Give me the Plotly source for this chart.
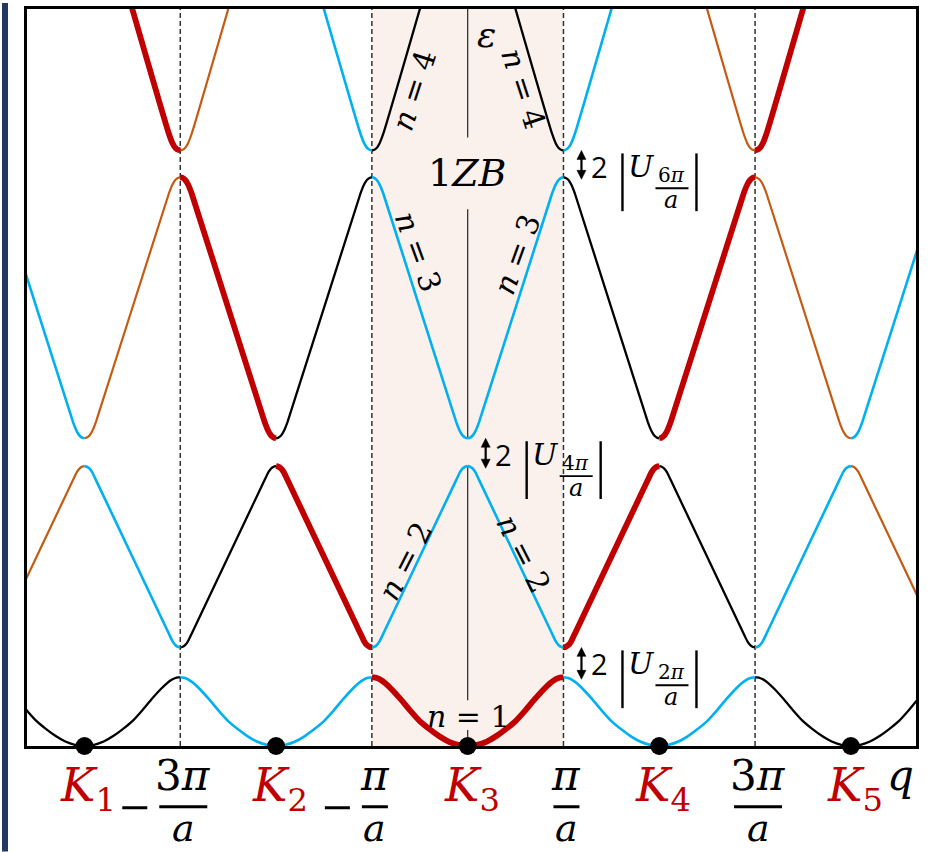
import plotly.graph_objects as go

# ---------------- data ----------------
# reciprocal lattice points (units of pi/a) and the colour family of the free-electron parabola centred there
K_POS = [-6, -4, -2, 0, 2, 4, 6]
K_FAMILY = ["orange", "black", "blue", "red", "blue", "black", "orange"]

# labelled lattice points on the q axis
K_TICK_POS = [-4, -2, 0, 2, 4]
K_TICK_TEXT = ["<i>K</i><sub>1</sub>", "<i>K</i><sub>2</sub>", "<i>K</i><sub>3</sub>",
               "<i>K</i><sub>4</sub>", "<i>K</i><sub>5</sub>"]

# zone-boundary ticks (units of pi/a)
ZB_POS = [-3, -1, 1, 3]
ZB_NUM = ["3<i>π</i>", "<i>π</i>", "<i>π</i>", "3<i>π</i>"]
ZB_NEG = [True, True, False, False]

# band profiles: energy vs distance d = |q - K| from the parabola centre (energy in arb. units)
BAND1_D = [0.0, 0.1, 0.2, 0.3, 0.4, 0.5, 0.6, 0.7, 0.8, 0.86, 0.91, 0.95, 0.98, 1.0]
BAND1_E = [0.0, 0.012, 0.045, 0.10, 0.17, 0.25, 0.355, 0.47, 0.575, 0.63, 0.665, 0.683, 0.688, 0.69]
BAND2_D = [1.0, 1.02, 1.05, 1.08, 1.12, 1.88, 1.92, 1.95, 1.98, 2.0]
BAND2_E = [0.99, 0.994, 1.012, 1.05, 1.13, 2.67, 2.75, 2.788, 2.806, 2.81]
BAND3_D = [2.0, 2.02, 2.05, 2.08, 2.12, 2.88, 2.92, 2.95, 2.98, 3.0]
BAND3_E = [3.09, 3.094, 3.115, 3.16, 3.255, 5.545, 5.64, 5.685, 5.706, 5.71]
BAND4_D = [3.0, 3.02, 3.05, 3.08, 3.12, 3.6]
BAND4_E = [5.98, 5.985, 6.005, 6.05, 6.15, 7.73]

# gap labels: where the arrow sits (q of the boundary) and the Fourier component text
GAP_Q = [1, 0, 1]
GAP_TEXT = ["2", "4", "6"]

# ---------------- styles ----------------
FAMILY_STYLE = {
    "orange": ("#C55A11", 2.2),
    "black": ("#000000", 2.3),
    "blue": ("#00B0F0", 2.6),
    "red": ("#C00000", 5.8),
}
RED = "#C00000"
SERIF = "DejaVu Serif"
XR = [-4.60, 4.68]
YR = [0.0, 7.40]
W, H = 932, 852
L, T, PW, PH = 27, 6, 889, 740


def pxq(q):
    return L + (q - XR[0]) / (XR[1] - XR[0]) * PW


def pyE(e):
    return T + (YR[1] - e) / (YR[1] - YR[0]) * PH


def papx(px):
    return (px - L) / PW


def papy(py):
    return (T + PH - py) / PH


BANDS = [(BAND1_D, BAND1_E), (BAND2_D, BAND2_E), (BAND3_D, BAND3_E), (BAND4_D, BAND4_E)]

fig = go.Figure()

# ---------------- band curves ----------------
for fam in ["orange", "black", "blue", "red"]:
    xs, ys = [], []
    for K, f in zip(K_POS, K_FAMILY):
        if f != fam:
            continue
        for n, (D, E) in enumerate(BANDS, start=1):
            if n == 1:
                xs += [K - d for d in reversed(D)] + [K + d for d in D[1:]] + [None]
                ys += list(reversed(E)) + E[1:] + [None]
            else:
                xs += [K + d for d in D] + [None]
                ys += E + [None]
                xs += [K - d for d in D] + [None]
                ys += E + [None]
    col, wid = FAMILY_STYLE[fam]
    fig.add_trace(go.Scatter(x=xs, y=ys, mode="lines",
                             line=dict(color=col, width=wid, shape="spline", smoothing=0.5),
                             hoverinfo="skip", showlegend=False))

# lattice points
fig.add_trace(go.Scatter(x=K_TICK_POS, y=[0] * len(K_TICK_POS), mode="markers",
                         marker=dict(color="black", size=18), cliponaxis=False,
                         hoverinfo="skip", showlegend=False))

shapes = []
annotations = []

# first Brillouin zone shading
shapes.append(dict(type="rect", xref="x", yref="y", x0=-1, x1=1, y0=YR[0], y1=YR[1],
                   fillcolor="#FBF1EC", line=dict(width=0), layer="below"))
# zone boundary dashed lines
for q in ZB_POS:
    shapes.append(dict(type="line", xref="x", yref="y", x0=q, x1=q, y0=YR[0], y1=YR[1],
                       line=dict(color="#333333", width=1.5, dash="5px,3px"), layer="below"))
# central energy axis (broken around labels)
for y0, y1 in [(0.0, 0.16), (0.46, BAND2_E[-1]), (BAND3_E[0], 5.39), (6.11, YR[1])]:
    shapes.append(dict(type="line", xref="x", yref="y", x0=0, x1=0, y0=y0, y1=y1,
                       line=dict(color="#333333", width=1.3), layer="below"))

# left navy page bar
shapes.append(dict(type="rect", xref="paper", yref="paper", x0=papx(2), x1=papx(8),
                   y0=papy(H), y1=papy(0), fillcolor="#1F3864", line=dict(width=0)))

# ---------------- q-axis labels ----------------
for q, txt in zip(K_TICK_POS, K_TICK_TEXT):
    annotations.append(dict(x=papx(pxq(q) + 4), y=papy(789), xref="paper", yref="paper",
                            text=txt, showarrow=False, xanchor="center", yanchor="middle",
                            font=dict(family=SERIF, size=46, color=RED)))

for q, num, neg in zip(ZB_POS, ZB_NUM, ZB_NEG):
    cx = pxq(q) + 3
    bw = 48 if "3" in num else 26
    annotations.append(dict(x=papx(cx), y=papy(776), xref="paper", yref="paper",
                            text=num, showarrow=False, xanchor="center", yanchor="middle",
                            font=dict(family=SERIF, size=42, color="black")))
    annotations.append(dict(x=papx(cx), y=papy(828), xref="paper", yref="paper",
                            text="<i>a</i>", showarrow=False, xanchor="center", yanchor="middle",
                            font=dict(family=SERIF, size=38, color="black")))
    shapes.append(dict(type="line", xref="paper", yref="paper",
                       x0=papx(cx - bw / 2), x1=papx(cx + bw / 2), y0=papy(807), y1=papy(807),
                       line=dict(color="black", width=3)))
    if neg:
        mx1 = cx - bw / 2 - 12
        shapes.append(dict(type="line", xref="paper", yref="paper",
                           x0=papx(mx1 - 25), x1=papx(mx1), y0=papy(808), y1=papy(808),
                           line=dict(color="black", width=3)))

annotations.append(dict(x=papx(900), y=papy(776), xref="paper", yref="paper",
                        text="<i>q</i>", showarrow=False, xanchor="center", yanchor="middle",
                        font=dict(family=SERIF, size=42, color="black")))

# ---------------- in-plot labels ----------------
def lab(q, e, txt, size, angle=0):
    annotations.append(dict(x=q, y=e, xref="x", yref="y", text=txt, showarrow=False,
                            textangle=angle, xanchor="center", yanchor="middle",
                            font=dict(family=SERIF, size=size, color="black")))


lab(-0.56, 6.58, "<i>n</i> = 4", 30, -72)
lab(0.58, 6.60, "<i>n</i> = 4", 30, 72)
lab(0.20, 7.14, "<i>ε</i>", 36)
lab(0.0, 5.75, "1<i>ZB</i>", 38)
lab(-0.51, 4.96, "<i>n</i> = 3", 30, 70)
lab(0.51, 4.94, "<i>n</i> = 3", 30, -70)
lab(-0.645, 1.86, "<i>n</i> = 2", 30, -63)
lab(0.58, 1.93, "<i>n</i> = 2", 30, 63)
lab(0.01, 0.30, "<i>n</i> = 1", 30, 0)

# ---------------- gap labels 2|U_{2n pi/a}| ----------------
gap_lower = [BAND1_E[-1], BAND2_E[-1], BAND3_E[-1]]
gap_upper = [BAND2_E[0], BAND3_E[0], BAND4_E[0]]
for q, lo, up, m in zip(GAP_Q, gap_lower, gap_upper, GAP_TEXT):
    ax = pxq(q) + 18
    yt = pyE(up)
    yb = pyE(lo) + 2
    # double arrow
    shapes.append(dict(type="line", xref="paper", yref="paper", x0=papx(ax), x1=papx(ax),
                       y0=papy(yt + 6), y1=papy(yb - 6), line=dict(color="black", width=2.2)))
    for tip, base in [(yt, yt + 9), (yb, yb - 9)]:
        path = "M {:.5f},{:.5f} L {:.5f},{:.5f} L {:.5f},{:.5f} Z".format(
            papx(ax), papy(tip), papx(ax - 4.5), papy(base), papx(ax + 4.5), papy(base))
        shapes.append(dict(type="path", xref="paper", yref="paper", path=path,
                           fillcolor="black", line=dict(color="black", width=0.5)))
    # |  |
    for bx in [ax + 41, ax + 115]:
        shapes.append(dict(type="line", xref="paper", yref="paper", x0=papx(bx), x1=papx(bx),
                           y0=papy(yt + 3), y1=papy(yt + 61), line=dict(color="black", width=2.4)))
    # fraction bar
    shapes.append(dict(type="line", xref="paper", yref="paper", x0=papx(ax + 74), x1=papx(ax + 107),
                       y0=papy(yt + 38), y1=papy(yt + 38), line=dict(color="black", width=1.8)))
    annotations.append(dict(x=papx(ax + 18), y=papy(yt + 16), xref="paper", yref="paper",
                            text="2", showarrow=False, xanchor="center", yanchor="middle",
                            font=dict(family="Open Sans", size=29, color="black")))
    annotations.append(dict(x=papx(ax + 60), y=papy(yt + 16), xref="paper", yref="paper",
                            text="<i>U</i>", showarrow=False, xanchor="center", yanchor="middle",
                            font=dict(family=SERIF, size=30, color="black")))
    annotations.append(dict(x=papx(ax + 90), y=papy(yt + 25), xref="paper", yref="paper",
                            text=m + "<i>π</i>", showarrow=False, xanchor="center", yanchor="middle",
                            font=dict(family=SERIF, size=20, color="black")))
    annotations.append(dict(x=papx(ax + 90), y=papy(yt + 50), xref="paper", yref="paper",
                            text="<i>a</i>", showarrow=False, xanchor="center", yanchor="middle",
                            font=dict(family=SERIF, size=24, color="black")))

fig.update_layout(
    width=W, height=H,
    margin=dict(l=L, r=W - L - PW, t=T, b=H - T - PH),
    paper_bgcolor="white", plot_bgcolor="white",
    showlegend=False,
    shapes=shapes, annotations=annotations,
    xaxis=dict(range=XR, showgrid=False, zeroline=False, showticklabels=False, ticks="",
               showline=True, linecolor="black", linewidth=2.5, mirror=True, fixedrange=True),
    yaxis=dict(range=YR, showgrid=False, zeroline=False, showticklabels=False, ticks="",
               showline=True, linecolor="black", linewidth=2.5, mirror=True, fixedrange=True),
)

fig.write_html("out.html", config={"displayModeBar": False},
               post_script="document.body.style.margin='0px';")
